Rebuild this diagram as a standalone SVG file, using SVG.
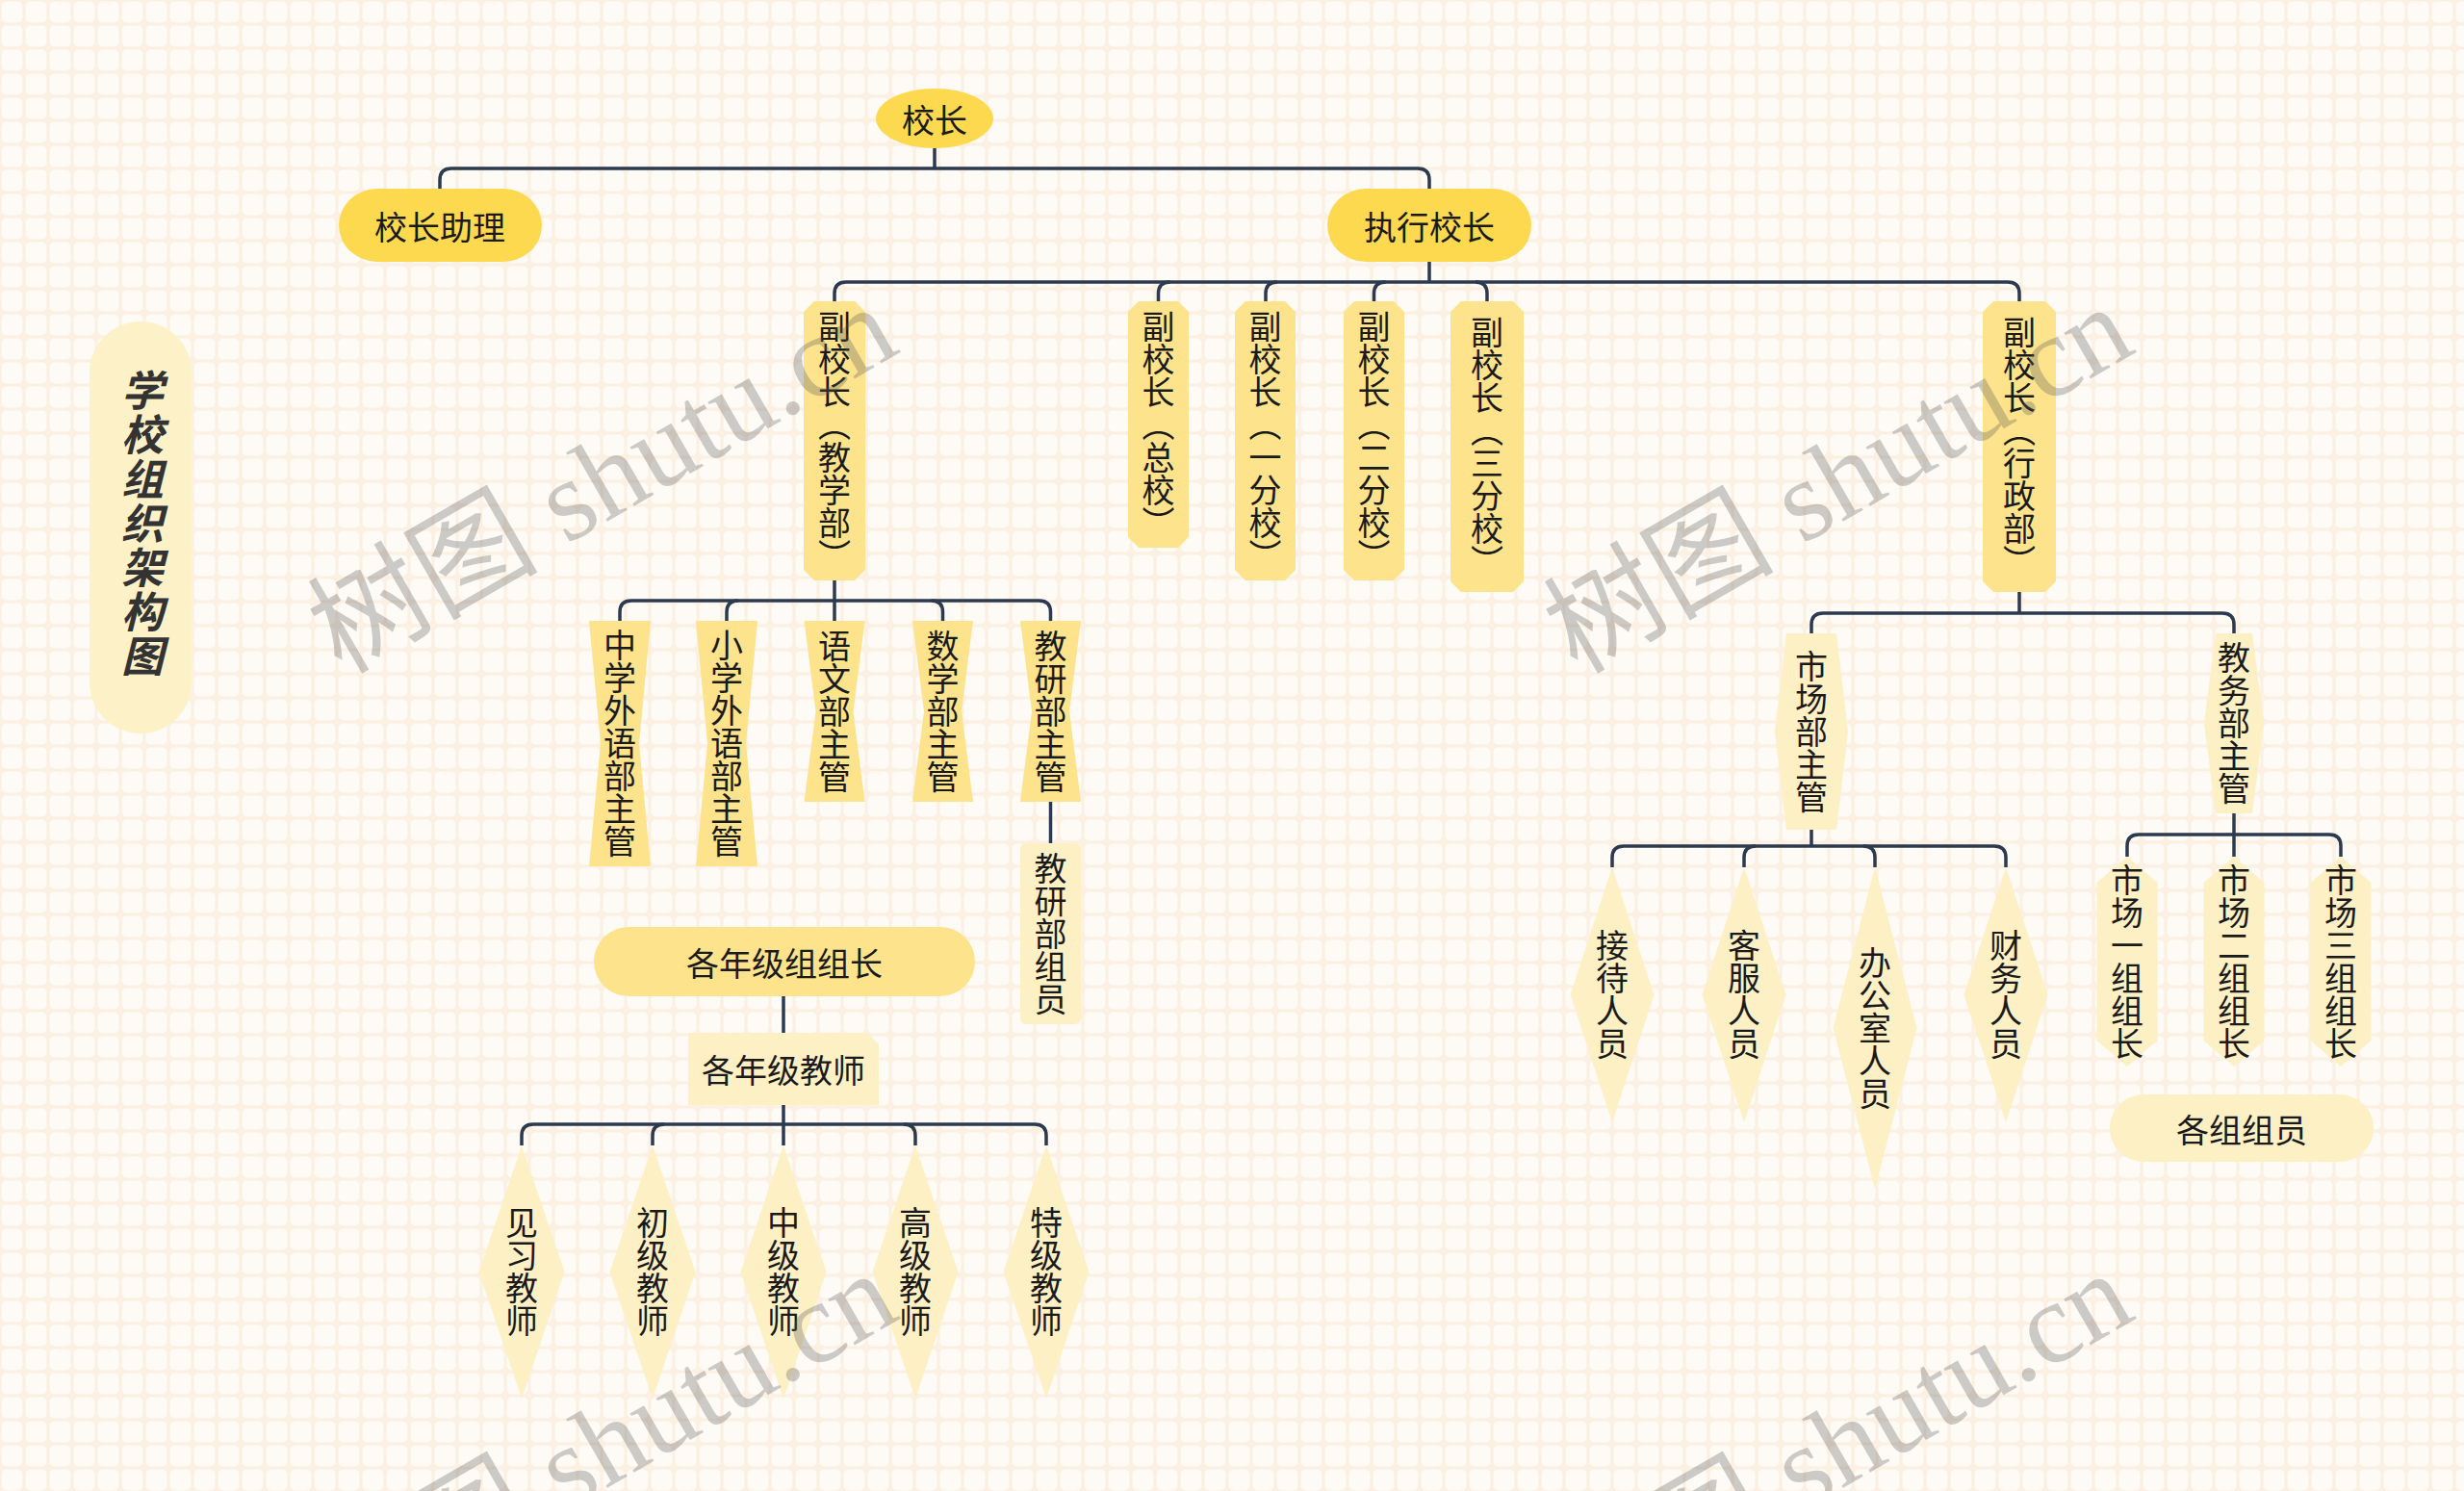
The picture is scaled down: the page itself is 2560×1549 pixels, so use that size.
<svg xmlns="http://www.w3.org/2000/svg" width="2560" height="1549" viewBox="0 0 2560 1549">
<defs>
<pattern id="grid" width="25" height="25" patternUnits="userSpaceOnUse">
<rect width="25" height="25" fill="#fbf0e2"/>
<rect x="1.5" y="1.5" width="22" height="22" rx="5" fill="#fefbf6"/>
</pattern>
<style>
.t{font-family:"Noto Sans CJK SC","Noto Sans",sans-serif;font-size:34px;fill:#1a1a1a;}
.h{text-anchor:middle;dominant-baseline:central;}
.v{writing-mode:vertical-rl;text-anchor:middle;}
.lk{fill:none;stroke:#2b3a4e;stroke-width:3.5;stroke-linecap:butt;}
.gold{fill:#fdd94f;}
.mid{fill:#fde38b;}
.pale{fill:#fdf0c4;}
.wm{font-family:"Liberation Serif","Noto Sans CJK SC",serif;font-size:120px;fill:#5a5a5a;fill-opacity:0.3;text-anchor:middle;}
</style>
</defs>
<rect width="2560" height="1549" fill="url(#grid)"/>

<g id="title">
<rect x="93" y="334" width="106" height="428" rx="53" fill="#fdf1c8"/>
<text class="t v" x="148" y="544" style="font-size:44px;font-weight:bold;font-style:italic;fill:#333;letter-spacing:2px">学校组织架构图</text>
</g>

<g id="connectors">
<path class="lk" d="M971,154 V175"/>
<path class="lk" d="M457,196 V187 Q457,175 469,175 H1473 Q1485,175 1485,187 V196"/>
<path class="lk" d="M1485,272 V293"/>
<path class="lk" d="M867,313 V305 Q867,293 879,293 H2086 Q2098,293 2098,305 V313"/>
<path class="lk" d="M1215.5,293 Q1203.5,293 1203.5,305 V313"/>
<path class="lk" d="M1327,293 Q1315,293 1315,305 V313"/>
<path class="lk" d="M1439.5,293 Q1427.5,293 1427.5,305 V313"/>
<path class="lk" d="M1533,293 Q1545,293 1545,305 V313"/>
<path class="lk" d="M867,603 V645"/>
<path class="lk" d="M644,645 V636 Q644,624 656,624 H1079.5 Q1091.5,624 1091.5,636 V645"/>
<path class="lk" d="M767,624 Q755,624 755,636 V645"/>
<path class="lk" d="M967.5,624 Q979.5,624 979.5,636 V645"/>
<path class="lk" d="M1091.5,833 V876"/>
<path class="lk" d="M814,1035 V1073"/>
<path class="lk" d="M814,1148 V1190"/>
<path class="lk" d="M542,1190 V1180 Q542,1168 554,1168 H1075 Q1087,1168 1087,1180 V1190"/>
<path class="lk" d="M690,1168 Q678,1168 678,1180 V1190"/>
<path class="lk" d="M939,1168 Q951,1168 951,1180 V1190"/>
<path class="lk" d="M2098,615 V637"/>
<path class="lk" d="M1882,658 V649 Q1882,637 1894,637 H2309 Q2321,637 2321,649 V658"/>
<path class="lk" d="M1882,862 V879"/>
<path class="lk" d="M1675,901 V891 Q1675,879 1687,879 H2072 Q2084,879 2084,891 V901"/>
<path class="lk" d="M1824,879 Q1812,879 1812,891 V901"/>
<path class="lk" d="M1936,879 Q1948,879 1948,891 V901"/>
<path class="lk" d="M2321,845 V890"/>
<path class="lk" d="M2210,890 V879 Q2210,867 2222,867 H2420 Q2432,867 2432,879 V890"/>
</g>

<g id="n-principal"><ellipse class="gold" cx="971" cy="123" rx="61" ry="31"/><text class="t h" x="971" y="123">校长</text></g>
<g id="n-assistant"><rect class="gold" x="352" y="196" width="211" height="76" rx="40" ry="38"/><text class="t h" x="457" y="234">校长助理</text></g>
<g id="n-executive"><rect class="gold" x="1379" y="196" width="212" height="76" rx="40" ry="38"/><text class="t h" x="1485" y="234">执行校长</text></g>

<g id="n-vp-teach"><polygon class="mid" points="846,313 888,313 899,324 899,592 888,603 846,603 835,592 835,324"/><text class="t v" x="867" y="458">副校长（教学部）</text></g>
<g id="n-vp-main"><polygon class="mid" points="1183,313 1224,313 1235,324 1235,558 1224,569 1183,569 1172,558 1172,324"/><text class="t v" x="1203.5" y="441">副校长（总校）</text></g>
<g id="n-vp-1"><polygon class="mid" points="1294,313 1335,313 1346,324 1346,592 1335,603 1294,603 1283,592 1283,324"/><text class="t v" x="1314.5" y="458">副校长（一分校）</text></g>
<g id="n-vp-2"><polygon class="mid" points="1407,313 1448,313 1459,324 1459,592 1448,603 1407,603 1396,592 1396,324"/><text class="t v" x="1427.5" y="458">副校长（二分校）</text></g>
<g id="n-vp-3"><polygon class="mid" points="1518,313 1572,313 1583,324 1583,604 1572,615 1518,615 1507,604 1507,324"/><text class="t v" x="1545" y="464">副校长（三分校）</text></g>
<g id="n-vp-admin"><polygon class="mid" points="2071,313 2125,313 2136,324 2136,604 2125,615 2071,615 2060,604 2060,324"/><text class="t v" x="2098" y="464">副校长（行政部）</text></g>

<g id="n-mid-foreign"><polygon class="mid" points="612,645 676,645 664,772.5 676,900 612,900 624,772.5"/><text class="t v" x="644" y="772.5">中学外语部主管</text></g>
<g id="n-pri-foreign"><polygon class="mid" points="723,645 787,645 775,772.5 787,900 723,900 735,772.5"/><text class="t v" x="755" y="772.5">小学外语部主管</text></g>
<g id="n-chinese"><polygon class="mid" points="835.5,645 898.5,645 886.5,739 898.5,833 835.5,833 847.5,739"/><text class="t v" x="867" y="739">语文部主管</text></g>
<g id="n-math"><polygon class="mid" points="948,645 1011,645 999,739 1011,833 948,833 960,739"/><text class="t v" x="979.5" y="739">数学部主管</text></g>
<g id="n-research"><polygon class="mid" points="1060,645 1123,645 1111,739 1123,833 1060,833 1072,739"/><text class="t v" x="1091.5" y="739">教研部主管</text></g>
<g id="n-research-staff"><rect class="pale" x="1060" y="876" width="63" height="188" rx="6"/><text class="t v" x="1091.5" y="970">教研部组员</text></g>

<g id="n-grade-leaders"><rect class="mid" x="617" y="963" width="396" height="72" rx="36"/><text class="t h" x="815" y="999">各年级组组长</text></g>
<g id="n-grade-teachers"><polygon class="pale" points="715,1073 901,1073 913,1085 913,1148 715,1148"/><text class="t h" x="814" y="1110.5">各年级教师</text></g>

<g id="n-t1"><polygon class="pale" points="542,1190 586.5,1321.5 542,1453 497.5,1321.5"/><text class="t v" x="542" y="1321.5">见习教师</text></g>
<g id="n-t2"><polygon class="pale" points="678,1190 722.5,1321.5 678,1453 633.5,1321.5"/><text class="t v" x="678" y="1321.5">初级教师</text></g>
<g id="n-t3"><polygon class="pale" points="814,1190 858.5,1321.5 814,1453 769.5,1321.5"/><text class="t v" x="814" y="1321.5">中级教师</text></g>
<g id="n-t4"><polygon class="pale" points="951,1190 995.5,1321.5 951,1453 906.5,1321.5"/><text class="t v" x="951" y="1321.5">高级教师</text></g>
<g id="n-t5"><polygon class="pale" points="1087,1190 1131.5,1321.5 1087,1453 1042.5,1321.5"/><text class="t v" x="1087" y="1321.5">特级教师</text></g>

<g id="n-market"><polygon class="pale" points="1856,658 1908,658 1920,760 1908,862 1856,862 1844,760"/><text class="t v" x="1882" y="760">市场部主管</text></g>
<g id="n-academic"><polygon class="pale" points="2302,658 2340,658 2352,751.5 2340,845 2302,845 2290,751.5"/><text class="t v" x="2321" y="751.5">教务部主管</text></g>

<g id="n-s1"><polygon class="pale" points="1675,901 1718.5,1033.5 1675,1166 1631.5,1033.5"/><text class="t v" x="1675" y="1033.5">接待人员</text></g>
<g id="n-s2"><polygon class="pale" points="1812,901 1855.5,1033.5 1812,1166 1768.5,1033.5"/><text class="t v" x="1812" y="1033.5">客服人员</text></g>
<g id="n-s3"><polygon class="pale" points="1948,901 1991.5,1068 1948,1235 1904.5,1068"/><text class="t v" x="1948" y="1068">办公室人员</text></g>
<g id="n-s4"><polygon class="pale" points="2084,901 2127.5,1033.5 2084,1166 2040.5,1033.5"/><text class="t v" x="2084" y="1033.5">财务人员</text></g>

<g id="n-g1"><polygon class="pale" points="2210,890 2241.5,917 2241.5,1081 2210,1108 2178.5,1081 2178.5,917"/><text class="t v" x="2210" y="999">市场一组组长</text></g>
<g id="n-g2"><polygon class="pale" points="2321,890 2352.5,917 2352.5,1081 2321,1108 2289.5,1081 2289.5,917"/><text class="t v" x="2321" y="999">市场二组组长</text></g>
<g id="n-g3"><polygon class="pale" points="2432,890 2463.5,917 2463.5,1081 2432,1108 2400.5,1081 2400.5,917"/><text class="t v" x="2432" y="999">市场三组组长</text></g>
<g id="n-members"><rect class="pale" x="2192" y="1137" width="274" height="70" rx="35"/><text class="t h" x="2329" y="1172">各组组员</text></g>

<g id="watermarks">
<text class="wm" transform="translate(646,533) rotate(-30)">树图 shutu.cn</text>
<text class="wm" transform="translate(1930,533) rotate(-30)">树图 shutu.cn</text>
<text class="wm" transform="translate(646,1537) rotate(-30)">树图 shutu.cn</text>
<text class="wm" transform="translate(1930,1537) rotate(-30)">树图 shutu.cn</text>
</g>
</svg>
